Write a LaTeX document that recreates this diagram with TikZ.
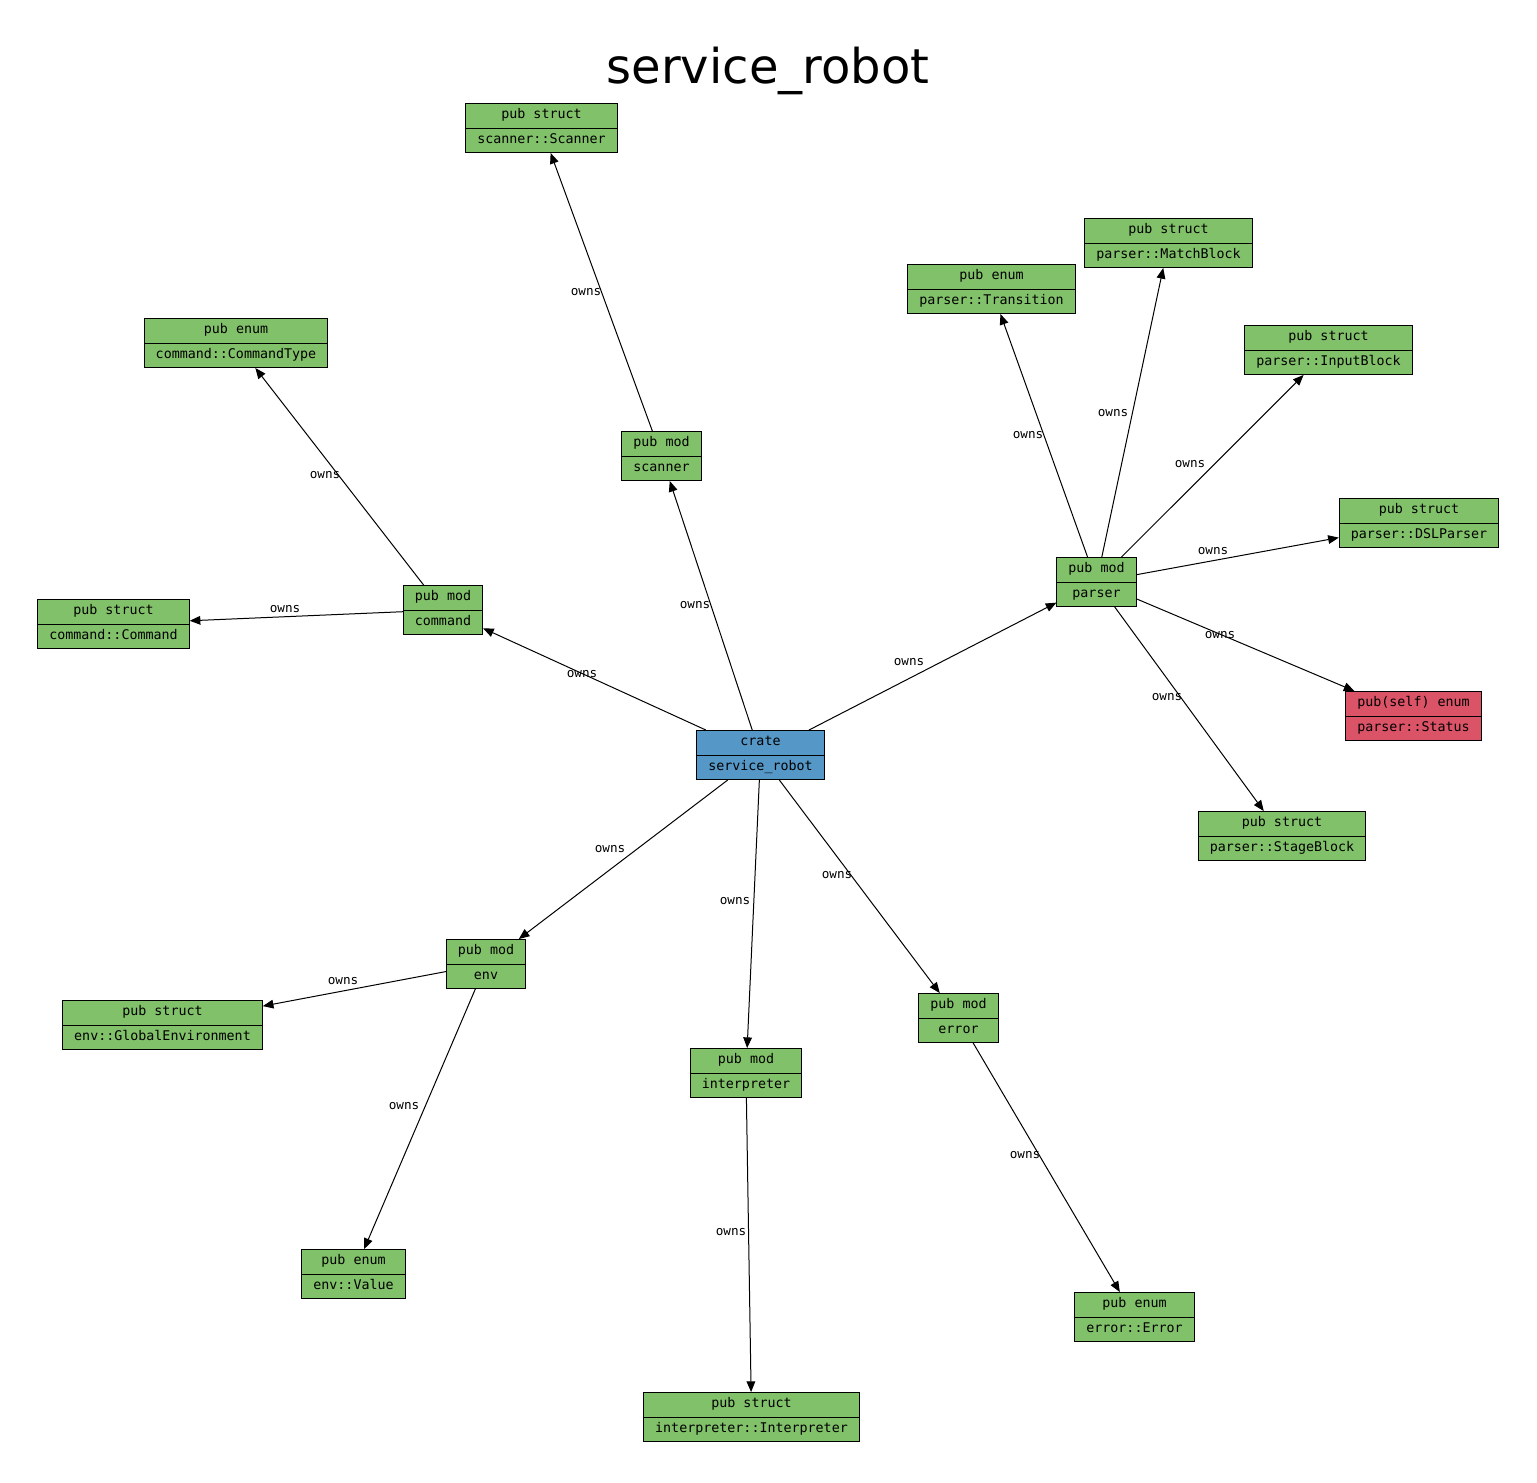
\documentclass[tikz,border=0pt]{standalone}
\usepackage{fontspec}
\usepackage{xcolor}
\setmainfont{DejaVu Sans}
\setmonofont{DejaVu Sans Mono}
\usetikzlibrary{shapes.multipart,arrows.meta}

\definecolor{pubgreen}{HTML}{81C169}
\definecolor{crateblue}{HTML}{5597C6}
\definecolor{privred}{HTML}{DB5367}

\newcommand{\modtext}[2]{#1\strut\nodepart{two}#2\strut}

\tikzset{
	item/.style={rectangle split, rectangle split parts=2, draw, line width=0.75pt,
		fill=pubgreen, font=\ttfamily\fontsize{10}{12}\selectfont,
		inner xsep=8.6pt, inner ysep=2.8pt},
	root/.style={item, fill=crateblue},
	priv/.style={item, fill=privred},
	owns/.style={draw, line width=0.75pt, -{Triangle[length=8pt,width=6.5pt]}},
	lbl/.style={font=\ttfamily\fontsize{9.5}{11}\selectfont, inner sep=0pt}
}

\begin{document}
\begin{tikzpicture}[x=0.75pt,y=-0.75pt]
		\useasboundingbox (0,0) rectangle (1537,1482);
		\node[anchor=base, font=\fontsize{36}{40}\selectfont] (title) at (768,83) {service\_robot};

		\node[root] (crate) at (760.5,755) {\modtext{crate}{service\_robot}};

		\node[item] (scanner) at (661.5,456) {\modtext{pub mod}{scanner}};
		\node[item] (command) at (443,610) {\modtext{pub mod}{command}};
		\node[item] (parser) at (1096.5,582) {\modtext{pub mod}{parser}};
		\node[item] (env) at (486,964) {\modtext{pub mod}{env}};
		\node[item] (interpreter) at (746,1073) {\modtext{pub mod}{interpreter}};
		\node[item] (error) at (958.5,1018) {\modtext{pub mod}{error}};

		\node[item] (Scanner) at (541.5,128) {\modtext{pub struct}{scanner::Scanner}};
		\node[item] (CommandType) at (236,343) {\modtext{pub enum}{command::CommandType}};
		\node[item] (Command) at (113.5,624) {\modtext{pub struct}{command::Command}};
		\node[item] (Transition) at (991.5,289) {\modtext{pub enum}{parser::Transition}};
		\node[item] (MatchBlock) at (1168.5,243) {\modtext{pub struct}{parser::MatchBlock}};
		\node[item] (InputBlock) at (1328.5,350) {\modtext{pub struct}{parser::InputBlock}};
		\node[item] (DSLParser) at (1419,523) {\modtext{pub struct}{parser::DSLParser}};
		\node[priv] (Status) at (1413.5,716) {\modtext{pub(self) enum}{parser::Status}};
		\node[item] (StageBlock) at (1282,836) {\modtext{pub struct}{parser::StageBlock}};
		\node[item] (GlobalEnv) at (162.5,1025) {\modtext{pub struct}{env::GlobalEnvironment}};
		\node[item] (Value) at (353.5,1274) {\modtext{pub enum}{env::Value}};
		\node[item] (Interpreter) at (751.5,1417) {\modtext{pub struct}{interpreter::Interpreter}};
		\node[item] (Error) at (1134.5,1317) {\modtext{pub enum}{error::Error}};

		% crate edges
		\draw[owns] (crate) -- (command);
		\draw[owns] (crate) -- (scanner);
		\draw[owns] (crate) -- (parser);
		\draw[owns] (crate) -- (env);
		\draw[owns] (crate) -- (interpreter);
		\draw[owns] (crate) -- (error);

		% module edges
		\draw[owns] (scanner) -- (Scanner);
		\draw[owns] (command) -- (CommandType);
		\draw[owns] (command) -- (Command);
		\draw[owns] (parser) -- (Transition);
		\draw[owns] (parser) -- (MatchBlock);
		\draw[owns] (parser) -- (InputBlock);
		\draw[owns] (parser) -- (DSLParser);
		\draw[owns] (parser) -- (Status);
		\draw[owns] (parser) -- (StageBlock);
		\draw[owns] (env) -- (GlobalEnv);
		\draw[owns] (env) -- (Value);
		\draw[owns] (interpreter) -- (Interpreter);
		\draw[owns] (error) -- (Error);

		% labels
		\node[lbl] (o1) at (582,674) {owns};
		\node[lbl] (o2) at (695,605) {owns};
		\node[lbl] (o3) at (909,662) {owns};
		\node[lbl] (o4) at (610,849) {owns};
		\node[lbl] (o5) at (735,901) {owns};
		\node[lbl] (o6) at (837,875) {owns};
		\node[lbl] (o7) at (586,292) {owns};
		\node[lbl] (o8) at (325,475) {owns};
		\node[lbl] (o9) at (285,609) {owns};
		\node[lbl] (o10) at (1028,435) {owns};
		\node[lbl] (o11) at (1113,413) {owns};
		\node[lbl] (o12) at (1190,464) {owns};
		\node[lbl] (o13) at (1213,551) {owns};
		\node[lbl] (o14) at (1220,635) {owns};
		\node[lbl] (o15) at (1167,697) {owns};
		\node[lbl] (o16) at (343,981) {owns};
		\node[lbl] (o17) at (404,1106) {owns};
		\node[lbl] (o18) at (731,1232) {owns};
		\node[lbl] (o19) at (1025,1155) {owns};
	\end{tikzpicture}
\end{document}
